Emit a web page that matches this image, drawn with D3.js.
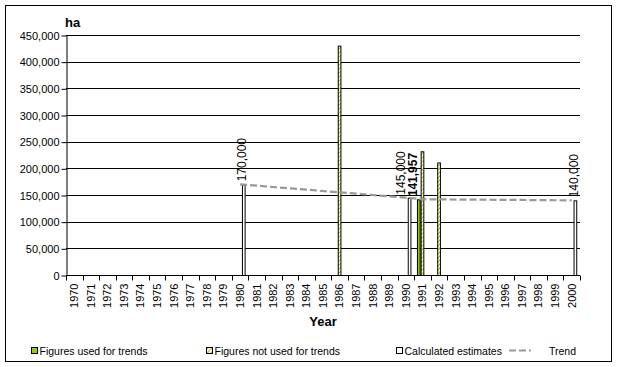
<!DOCTYPE html>
<html><head><meta charset="utf-8">
<script src="https://cdn.jsdelivr.net/npm/d3@7"></script>
<style>body{margin:0;background:#fff}svg{display:block}text{font-family:Arial,"Liberation Sans",sans-serif}</style>
</head><body><svg id="c" width="618" height="367"></svg>
<script>
const years = ["1970","1971","1972","1973","1974","1975","1976","1977","1978","1979","1980","1981","1982","1983","1984","1985","1986","1987","1988","1989","1990","1991","1992","1993","1994","1995","1996","1997","1998","1999","2000"];
const usedYears = ["1991"];
const usedValues = [141957];
const notUsedYears = ["1986","1991","1992"];
const notUsedValues = [430000,232000,211000];
const calcYears = ["1980","1990","2000"];
const calcValues = [170000,145000,140000];
const trendYears = ["1980","1990","1991","2000"];
const trendValues = [170000,145000,141957,140000];
const yTicks = [0,50000,100000,150000,200000,250000,300000,350000,400000,450000];
const seriesNames = ["used","notUsed","calc"];
const legendLabels = ["Figures used for trends","Figures not used for trends","Calculated estimates","Trend"];

const svg = d3.select("#c");
const L=66,R=580,T=35,B=275;
const defs = svg.append("defs");
const pat = defs.append("pattern").attr("id","hatch").attr("patternUnits","userSpaceOnUse").attr("width",4).attr("height",4);
pat.append("rect").attr("width",4).attr("height",4).attr("fill","#fff");
pat.append("path").attr("d","M-1,1 l2,-2 M0,4 l4,-4 M3,5 l2,-2").attr("stroke","#b4c814").attr("stroke-width",1.2);

svg.append("rect").attr("x",5.5).attr("y",5.5).attr("width",606).attr("height",356).attr("fill","#fff").attr("stroke","#000");

const x = d3.scaleBand().domain(years).range([L,R]).padding(0);
const xs = d3.scaleBand().domain(seriesNames).range([0,x.bandwidth()]).paddingInner(0).paddingOuter(0.75);
const y = d3.scaleLinear().domain([0,450000]).range([B,T]);

svg.append("g").selectAll("line").data(yTicks.filter(d=>d>0)).join("line")
  .attr("x1",L).attr("x2",R).attr("y1",d=>Math.round(y(d))+0.5).attr("y2",d=>Math.round(y(d))+0.5)
  .attr("stroke","#000");

const ya = svg.append("g").attr("transform",`translate(${L+0.5},0.5)`)
  .call(d3.axisLeft(y).tickValues(yTicks).tickFormat(d3.format(",")).tickSize(5).tickSizeOuter(0));
ya.select(".domain").attr("stroke","#000");
ya.selectAll("line").attr("stroke","#000");
ya.selectAll("text").attr("font-size",11).attr("fill","#000").attr("x",-7);

const xa = svg.append("g").attr("transform",`translate(0,${B+0.5})`);
xa.append("line").attr("x1",L).attr("x2",R).attr("stroke","#000");
xa.selectAll("line.tk").data(years.concat(["end"])).join("line").attr("class","tk")
  .attr("x1",d=>d==="end"?R+0.5:Math.round(x(d))+0.5).attr("x2",d=>d==="end"?R+0.5:Math.round(x(d))+0.5)
  .attr("y1",0).attr("y2",5).attr("stroke","#000");
xa.selectAll("text").data(years).join("text")
  .attr("transform",d=>`translate(${x(d)+x.bandwidth()/2},8) rotate(-90)`)
  .attr("text-anchor","end").attr("dy","0.35em").attr("font-size",11).text(d=>d);

function bars(ys, vs, key, fill, stroke){
  const data = ys.map((yr,i)=>({yr, v:vs[i]}));
  svg.append("g").selectAll("rect").data(data).join("rect")
    .attr("x",d=>x(d.yr)+xs(key)+0.5).attr("width",xs.bandwidth()-1)
    .attr("y",d=>y(d.v)+0.5).attr("height",d=>B-y(d.v))
    .attr("fill",fill).attr("stroke",stroke);
}
bars(usedYears, usedValues, "used", "#99cc00", "#000");
bars(notUsedYears, notUsedValues, "notUsed", "url(#hatch)", "#000");
bars(calcYears, calcValues, "calc", "#fff", "#000");

const line = d3.line().x(d=>x(d[0])+x.bandwidth()/2).y(d=>y(d[1]));
svg.append("path").datum(trendYears.map((t,i)=>[t,trendValues[i]]))
  .attr("d",line).attr("fill","none").attr("stroke","#999").attr("stroke-width",2.2).attr("stroke-dasharray","7,3");

const labels = calcYears.map((yr,i)=>({yr,v:calcValues[i],key:"calc",bold:false}))
  .concat(usedYears.map((yr,i)=>({yr,v:usedValues[i],key:"used",bold:true})));
labels.forEach(d=>{d.cx = x(d.yr)+xs(d.key)+xs.bandwidth()/2 - 2;});
labels.sort((a,b)=>a.cx-b.cx);
for(let i=1;i<labels.length;i++){
  const gap = labels[i].cx - labels[i-1].cx;
  if(gap<12){ labels[i].cx -= 4; labels[i-1].cx -= (12-gap)+4; }
}
svg.append("g").selectAll("text").data(labels).join("text")
  .attr("transform",d=>`translate(${d.cx},${y(d.v)-3}) rotate(-90)`)
  .attr("dy","0.35em").attr("font-size",12).attr("font-weight",d=>d.bold?"bold":"normal")
  .text(d=>d3.format(",")(d.v));

svg.append("text").attr("x",65).attr("y",27).attr("font-size",13).attr("font-weight","bold").text("ha");
svg.append("text").attr("x",(L+R)/2).attr("y",326).attr("text-anchor","middle").attr("font-size",13).attr("font-weight","bold").text("Year");

const lg = svg.append("g");
const lx = [31,206,396];
const lf = ["#99cc00","url(#hatch)","#fff"];
lx.forEach((px,i)=>{
  lg.append("rect").attr("x",px+0.5).attr("y",347.5).attr("width",6).attr("height",6).attr("fill",lf[i]).attr("stroke","#000");
  lg.append("text").attr("x",px+8.5).attr("y",355).attr("font-size",10.5).text(legendLabels[i]);
});
lg.append("line").attr("x1",509).attr("x2",531).attr("y1",350.5).attr("y2",350.5).attr("stroke","#999").attr("stroke-width",2.2).attr("stroke-dasharray","7,3");
lg.append("text").attr("x",549).attr("y",355).attr("font-size",10.5).text(legendLabels[3]);
</script></body></html>
